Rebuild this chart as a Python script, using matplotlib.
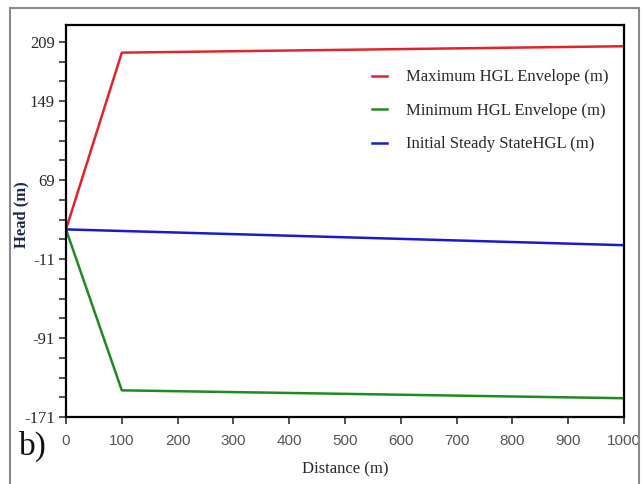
import matplotlib
matplotlib.use("Agg")
from matplotlib import pyplot as plt
from matplotlib.lines import Line2D

# values
distance = [0, 100, 1000]
max_hgl = [19, 198, 204.5]
min_hgl = [19, -144, -152]
steady_x = [0, 1000]
steady_hgl = [19, 3]

y_major = [209, 149, 69, -11, -91, -171]
y_minor = list(range(-171, 210, 20))
x_ticks = list(range(0, 1001, 100))

serif = ['Liberation Serif', 'DejaVu Serif']
narrow = ['Liberation Sans Narrow', 'Liberation Sans', 'DejaVu Sans']
txt = '#2a2630'

fig = plt.figure(figsize=(6.43, 4.84), dpi=100)
ax = fig.add_axes([66 / 643, 1 - 417 / 484, (624 - 66) / 643, (417 - 25) / 484])

ax.plot(distance, max_hgl, color='#e0242a', lw=1.8, label='Maximum HGL Envelope (m)')
ax.plot(distance, min_hgl, color='#1f8a1f', lw=1.8, label='Minimum HGL Envelope (m)')
ax.plot(steady_x, steady_hgl, color='#1a1ad0', lw=1.8, label='Initial Steady StateHGL (m)')

ax.set_xlim(0, 1000)
ax.set_ylim(-171, 226)
ax.set_xticks(x_ticks)
ax.set_xticklabels([str(v) for v in x_ticks], family=narrow, fontsize=11, color='#555555')
ax.set_yticks(y_major)
ax.set_yticklabels([str(v) for v in y_major], family=serif, fontsize=12, color=txt)
ax.set_yticks(y_minor, minor=True)
ax.tick_params(axis='both', which='both', direction='out', length=5, width=1.2, color='#333333')
ax.tick_params(axis='x', pad=7)
ax.tick_params(axis='y', pad=3)
for s in ax.spines.values():
    s.set_linewidth(1.6)
    s.set_color('black')

ax.set_xlabel('Distance (m)', family=serif, fontsize=12, color=txt, labelpad=10)
ax.set_ylabel('Head (m)', family=serif, fontsize=12, fontweight='bold', color='#1e2a4a')
ax.yaxis.set_label_coords(-0.066, 0.515)

ax.legend(loc='upper right', bbox_to_anchor=(1.0, 0.925), frameon=False,
          prop={'family': serif, 'size': 12}, handlelength=0.9, handletextpad=1.2,
          labelspacing=1.05, labelcolor=txt)

fig.text(19 / 643, 1 - 446 / 484, 'b)', family=serif, fontsize=24, color='#111111', va='center')

# grey outer frame of the panel
fig.add_artist(Line2D([10 / 643, 639 / 643], [1 - 8 / 484, 1 - 8 / 484], color='#8a8a8a', lw=1.5))
fig.add_artist(Line2D([10 / 643, 10 / 643], [0, 1 - 8 / 484], color='#8a8a8a', lw=1.5))
fig.add_artist(Line2D([639 / 643, 639 / 643], [0, 1 - 8 / 484], color='#8a8a8a', lw=1.5))

fig.savefig('out.png', dpi=100)
